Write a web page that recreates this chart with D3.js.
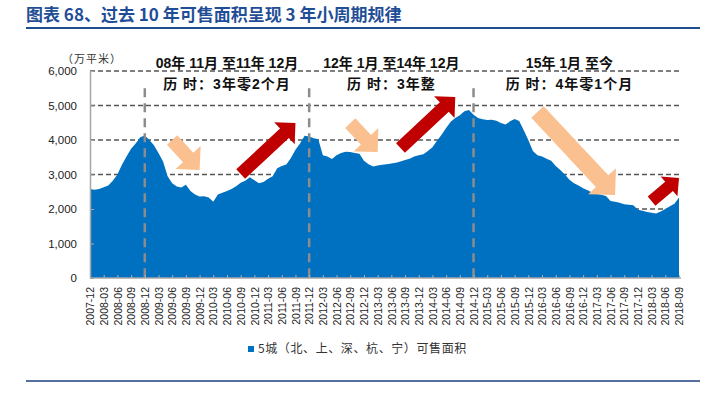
<!DOCTYPE html>
<html>
<head>
<meta charset="utf-8">
<script src="https://cdn.jsdelivr.net/npm/d3@7/dist/d3.min.js"></script>
<style>
  body { margin: 0; background: #fff; }
  svg text { font-family: "Liberation Sans", Arial, "Noto Sans CJK SC", sans-serif; }
</style>
</head>
<body>
<div id="content"></div>
<script>
// monthly series, first point = 2007-12 (万平米)
var saleArea = [
  2580, 2560, 2580, 2630, 2680, 2820, 3000, 3280, 3520, 3750, 3900, 4080,
  4130, 4000, 3850, 3620, 3380, 2950, 2750, 2650, 2620, 2700, 2520, 2420,
  2360, 2370, 2330, 2210, 2420, 2470, 2520, 2580, 2660, 2760, 2820, 2920,
  2830, 2750, 2780, 2880, 2950, 3180, 3250, 3290, 3480, 3720, 3900, 4120,
  4100, 4050, 4020, 3560, 3520, 3450, 3560, 3620, 3660, 3650, 3620, 3600,
  3400, 3300, 3230, 3260, 3280, 3300, 3320, 3340, 3380, 3420, 3460, 3520,
  3560, 3590, 3680, 3790, 3980, 4150, 4350, 4530, 4640, 4720, 4830, 4870,
  4730, 4640, 4600, 4580, 4590, 4560, 4490, 4450, 4540, 4610, 4550, 4280,
  4000, 3680, 3560, 3520, 3460, 3400, 3250, 3130, 3000, 2850, 2750, 2680,
  2600, 2540, 2470, 2440, 2410, 2380, 2230, 2210, 2180, 2140, 2120, 2110,
  1980, 1950, 1910, 1890, 1870, 1930, 2000, 2080, 2150, 2330
];

var tickLabels = [
  "2007-12","2008-03","2008-06","2008-09","2008-12","2009-03","2009-06","2009-09",
  "2009-12","2010-03","2010-06","2010-09","2010-12","2011-03","2011-06","2011-09",
  "2011-12","2012-03","2012-06","2012-09","2012-12","2013-03","2013-06","2013-09",
  "2013-12","2014-03","2014-06","2014-09","2014-12","2015-03","2015-06","2015-09",
  "2015-12","2016-03","2016-06","2016-09","2016-12","2017-03","2017-06","2017-09",
  "2017-12","2018-03","2018-06","2018-09"
];
var yTicks = [0, 1000, 2000, 3000, 4000, 5000, 6000];

var cycleSplits = ["2008-12", "2011-12", "2014-12"];
var periodCenters = ["2010-06", "2013-06", "2016-09"];
var periodTitles = ["08年 11月 至11年 12月", "12年 1月 至14年 12月", "15年 1月 至今"];
var periodDurations = ["历 时：3年零2个月", "历 时：3年整", "历 时：4年零1个月"];

// arrows: [from month, from value, to month, to value, kind]
var arrowList = [
  ["2009-06", 4000, "2009-12", 3130, "down"],
  ["2010-09", 3015, "2011-09", 4490, "up"],
  ["2012-09", 4490, "2013-03", 3650, "down"],
  ["2013-08", 3770, "2014-08", 5250, "up"],
  ["2016-02", 4810, "2017-07", 2405, "downBig"],
  ["2018-03", 2230, "2018-09", 2900, "upSmall"]
];

function monthIndex(s) {
  var p = s.split("-");
  return (+p[0] - 2007) * 12 + (+p[1]) - 12;
}

var width = 707, height = 396;
var svg = d3.select("#content").append("svg")
  .attr("width", width)
  .attr("height", height);

var x = d3.scaleLinear().domain([0, saleArea.length - 1]).range([90, 679]);
var y = d3.scaleLinear().domain([0, 6000]).range([278, 71]);

// title
svg.append("text")
  .attr("x", 26).attr("y", 21)
  .attr("fill", "#1f4e96")
  .attr("font-size", 17).attr("font-weight", "bold")
  .style("font-family", "'Noto Sans CJK SC', sans-serif")
  .text("图表 68、过去 10 年可售面积呈现 3 年小周期规律");
svg.append("line")
  .attr("x1", 26).attr("x2", 700).attr("y1", 28).attr("y2", 28)
  .attr("stroke", "#1f4e8c").attr("stroke-width", 2);
svg.append("line")
  .attr("x1", 26).attr("x2", 700).attr("y1", 381).attr("y2", 381)
  .attr("stroke", "#1f3f7f").attr("stroke-width", 1.5);

// grid
svg.append("g").selectAll("line")
  .data(yTicks.filter(function(d) { return d > 0; }))
  .enter().append("line")
  .attr("x1", 90).attr("x2", 680)
  .attr("y1", function(d) { return y(d); })
  .attr("y2", function(d) { return y(d); })
  .attr("stroke", "#555").attr("stroke-width", 1.3)
  .attr("stroke-dasharray", "5,3");

// area
var area = d3.area()
  .x(function(d, i) { return x(i); })
  .y0(y(0))
  .y1(function(d) { return y(d); });
svg.append("path")
  .datum(saleArea)
  .attr("d", area)
  .attr("fill", "#0070c0");

// cycle split lines
svg.append("g").selectAll("line")
  .data(cycleSplits)
  .enter().append("line")
  .attr("x1", function(d) { return x(monthIndex(d)); })
  .attr("x2", function(d) { return x(monthIndex(d)); })
  .attr("y1", y(5500)).attr("y2", y(0))
  .attr("stroke", "#8c8c8c").attr("stroke-width", 2.5)
  .attr("stroke-dasharray", "9,6");

// axes
var xAxis = d3.axisBottom(x)
  .tickValues(tickLabels.map(monthIndex))
  .tickFormat(function(d, i) { return tickLabels[i]; })
  .tickSizeInner(-3).tickSizeOuter(0);
var gx = svg.append("g").attr("transform", "translate(0," + y(0) + ")").call(xAxis);
gx.select(".domain").attr("stroke", "#a6a6a6").attr("stroke-width", 1.5)
  .attr("d", "M90,0H681");
gx.selectAll(".tick line").attr("stroke", "#b0b0b0");
gx.selectAll(".tick text")
  .attr("font-size", 10.5).attr("fill", "#222")
  .attr("transform", "rotate(-90)")
  .attr("text-anchor", "end")
  .attr("x", -9).attr("y", 0).attr("dy", "0.35em");

var yAxis = d3.axisLeft(y)
  .tickValues(yTicks)
  .tickFormat(d3.format(","))
  .tickSizeInner(-4).tickSizeOuter(0).tickPadding(13);
var gy = svg.append("g").attr("transform", "translate(90,0)").call(yAxis);
gy.select(".domain").attr("stroke", "#a6a6a6").attr("stroke-width", 1.5);
gy.selectAll(".tick line").attr("stroke", "#a6a6a6");
gy.selectAll(".tick text").attr("font-size", 11.5).attr("fill", "#222");

svg.append("text")
  .attr("x", 62).attr("y", 63)
  .attr("font-size", 11).attr("fill", "#333")
  .attr("letter-spacing", 1)
  .style("font-family", "'Noto Sans CJK SC', sans-serif")
  .text("（万平米）");

// arrows
var arrowStyle = {
  down:    { fill: "#fac090", w: 14, hw: 34 },
  downBig: { fill: "#fac090", w: 17, hw: 38 },
  up:      { fill: "#c00000", w: 13, hw: 30 },
  upSmall: { fill: "#c00000", w: 12, hw: 26 }
};
function arrowPoints(x1, y1, x2, y2, w, hw) {
  var dx = x2 - x1, dy = y2 - y1, L = Math.hypot(dx, dy);
  var ux = dx / L, uy = dy / L, nx = -uy, ny = ux, hl = hw / 2;
  var bx = x2 - ux * hl, by = y2 - uy * hl;
  return [
    [x1 + nx * w / 2, y1 + ny * w / 2], [bx + nx * w / 2, by + ny * w / 2],
    [bx + nx * hw / 2, by + ny * hw / 2], [x2, y2],
    [bx - nx * hw / 2, by - ny * hw / 2], [bx - nx * w / 2, by - ny * w / 2],
    [x1 - nx * w / 2, y1 - ny * w / 2]
  ];
}
svg.append("g").selectAll("polygon")
  .data(arrowList)
  .enter().append("polygon")
  .attr("points", function(d) {
    var s = arrowStyle[d[4]];
    return arrowPoints(x(monthIndex(d[0])), y(d[1]), x(monthIndex(d[2])), y(d[3]), s.w, s.hw).join(" ");
  })
  .attr("fill", function(d) { return arrowStyle[d[4]].fill; });

// period notes
var notes = svg.append("g")
  .attr("font-weight", "bold").attr("font-size", 14).attr("fill", "#111")
  .attr("text-anchor", "middle");
notes.selectAll("text.ptitle")
  .data(periodTitles)
  .enter().append("text")
  .attr("class", "ptitle")
  .attr("x", function(d, i) { return x(monthIndex(periodCenters[i])); })
  .attr("y", 68)
  .text(function(d) { return d; });
notes.selectAll("text.pdur")
  .data(periodDurations)
  .enter().append("text")
  .attr("class", "pdur")
  .attr("x", function(d, i) { return x(monthIndex(periodCenters[i])); })
  .attr("y", 89)
  .attr("letter-spacing", 1)
  .text(function(d) { return d; });

// legend
svg.append("rect")
  .attr("x", 248).attr("y", 346).attr("width", 6).attr("height", 6)
  .attr("fill", "#0070c0");
svg.append("text")
  .attr("x", 258).attr("y", 353)
  .attr("font-size", 12).attr("fill", "#333")
  .attr("letter-spacing", 0.6)
  .style("font-family", "'Noto Sans CJK SC', sans-serif")
  .text("5城（北、上、深、杭、宁）可售面积");
</script>
</body>
</html>
